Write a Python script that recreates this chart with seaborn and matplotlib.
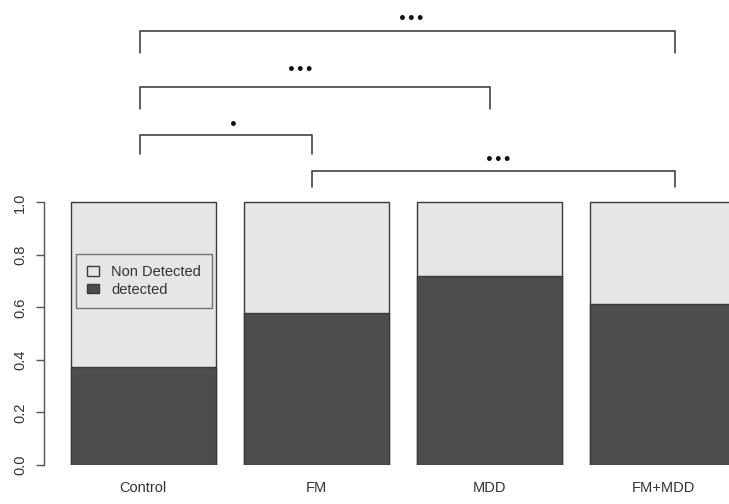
import matplotlib
matplotlib.use("Agg")
import matplotlib.pyplot as plt
import seaborn as sns
import pandas as pd
from matplotlib.patches import Patch

# Proportion of subjects in each group
groups = ["Control", "FM", "MDD", "FM+MDD"]
detected = [0.375, 0.58, 0.72, 0.614]
total = [1.0, 1.0, 1.0, 1.0]
legend_labels = ["Non Detected", "detected"]
y_ticks = [0.0, 0.2, 0.4, 0.6, 0.8, 1.0]

# Pairwise comparisons drawn above the bars
anchor_x = [-0.02, 0.975, 2.0, 3.07]
comparisons = [(0, 3), (0, 2), (0, 1), (1, 3)]
bracket_top = [1.653, 1.439, 1.258, 1.121]
bracket_leg = [1.568, 1.355, 1.183, 1.059]
star_labels = ["•••", "•••", "•", "•••"]
star_x = [1.55, 0.905, 0.522, 2.05]
star_y = [1.700, 1.503, 1.294, 1.162]

LIGHT = "#E6E6E6"
DARK = "#4D4D4D"
EDGE = "#3a3a3a"

sns.set_style("white")
plt.rcParams["font.family"] = ["Liberation Sans", "DejaVu Sans"]

df = pd.DataFrame({"group": groups, "detected": detected, "total": total})

fig = plt.figure(figsize=(7.29, 5.04), dpi=100)
ax = fig.add_axes([0.0608, 0.0774, 0.9912, 0.9219])

sns.barplot(data=df, x="group", y="total", color=LIGHT, saturation=1,
            width=0.837, edgecolor=EDGE, linewidth=1.0, errorbar=None, ax=ax)
sns.barplot(data=df, x="group", y="detected", color=DARK, saturation=1,
            width=0.837, edgecolor=EDGE, linewidth=1.0, errorbar=None, ax=ax)

ax.set_xlim(-0.571, 3.6)
ax.set_ylim(0, 1.77)
ax.set_xlabel("")
ax.set_ylabel("")

for side in ["top", "right", "bottom"]:
    ax.spines[side].set_visible(False)
ax.spines["left"].set_bounds(0, 1)
ax.spines["left"].set_color("#555555")
ax.spines["left"].set_linewidth(1.0)

ax.set_yticks(y_ticks)
ax.set_yticklabels([f"{t:.1f}" for t in y_ticks], rotation=90, va="center",
                   fontsize=10.5, color="#333333")
ax.tick_params(axis="y", length=5.8, width=1.0, color="#555555", pad=6.5, left=True)
ax.tick_params(axis="x", length=0, pad=11.5, labelsize=10.5, labelcolor="#333333")

# Significance brackets
for (a, b), top, leg in zip(comparisons, bracket_top, bracket_leg):
    xa, xb = anchor_x[a], anchor_x[b]
    ax.plot([xa, xa, xb, xb], [leg, top, top, leg], color="#333333",
            linewidth=1.1, clip_on=False, solid_joinstyle="miter")
for lab, sx, sy in zip(star_labels, star_x, star_y):
    ax.text(sx, sy, lab, ha="center", va="center", fontsize=10,
            fontweight="bold", color="#111111", family=["DejaVu Sans"])

handles = [Patch(facecolor=LIGHT, edgecolor=EDGE, linewidth=1.0),
           Patch(facecolor=DARK, edgecolor=EDGE, linewidth=1.0)]
leg = ax.legend(handles, legend_labels, loc="upper left",
                bbox_to_anchor=(76 / 729, 1 - 254 / 504),
                bbox_transform=fig.transFigure, fontsize=10.5,
                frameon=True, fancybox=False,
                handlelength=0.82, handleheight=0.62, handletextpad=0.85,
                labelspacing=0.25, borderpad=0.75, borderaxespad=0)
frame = leg.get_frame()
frame.set_facecolor("none")
frame.set_edgecolor("#555555")
frame.set_linewidth(1.0)
for t in leg.get_texts():
    t.set_color("#333333")

fig.savefig("out.png", dpi=100)
